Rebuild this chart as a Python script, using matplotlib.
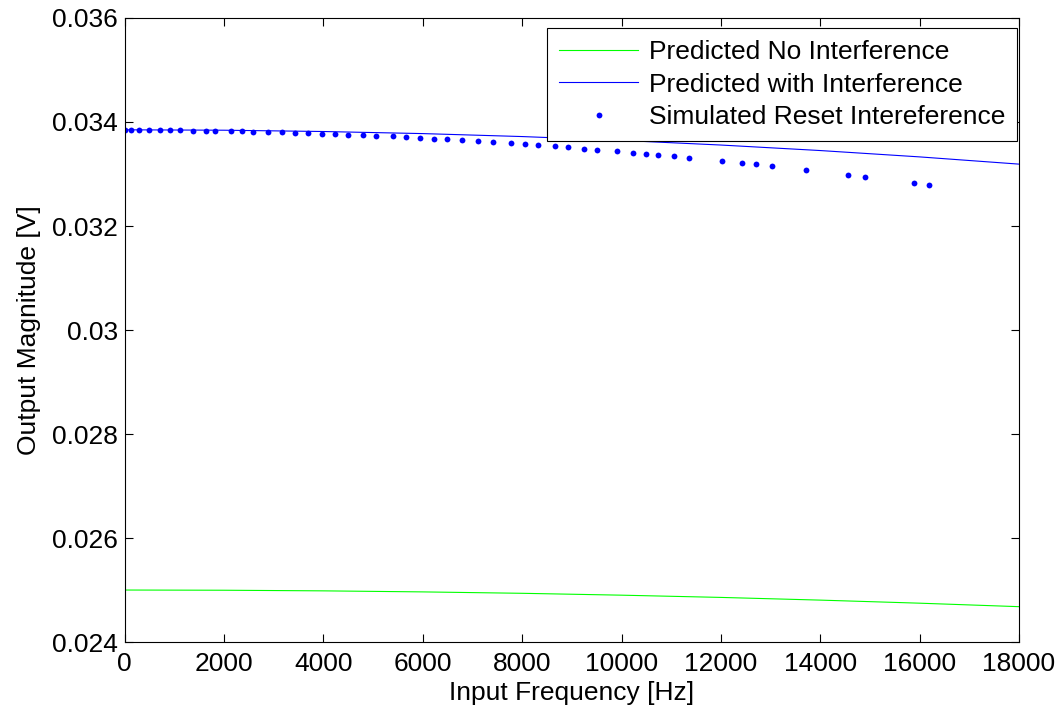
import matplotlib.pyplot as plt
from matplotlib.ticker import FuncFormatter

plt.rcParams['font.family'] = ['Liberation Sans', 'DejaVu Sans']

# Predicted curves
freq_pred = [0, 2000, 4000, 6000, 8000, 10000, 12000, 14000, 16000, 18000]
mag_no_interf = [0.02500, 0.024996, 0.024984, 0.024964, 0.024937,
                 0.024901, 0.024858, 0.024806, 0.024747, 0.02468]
mag_with_interf = [0.03385, 0.033842, 0.033817, 0.033777, 0.03372,
                   0.033646, 0.033557, 0.033451, 0.033329, 0.03319]

# Simulated points
freq_sim = [0, 120, 288, 496, 704, 911, 1106, 1381, 1636, 1824, 2132, 2367,
            2581, 2890, 3165, 3427, 3695, 3977, 4238, 4493, 4788, 5056, 5392,
            5660, 5941, 6223, 6485, 6793, 7109, 7417, 7773, 8048, 8316, 8658,
            8926, 9241, 9502, 9899, 10221, 10489, 10724, 11052, 11348, 12024,
            12421, 12716, 13030, 13714, 14567, 14901, 15887, 16196]
mag_sim = [0.033846, 0.033846, 0.033840, 0.033840, 0.033840, 0.033840,
           0.033840, 0.033833, 0.033833, 0.033833, 0.033827, 0.033821,
           0.033814, 0.033808, 0.033801, 0.033788, 0.033782, 0.033769,
           0.033763, 0.033756, 0.033744, 0.033737, 0.033724, 0.033718,
           0.033692, 0.033679, 0.033667, 0.033654, 0.033628, 0.033615,
           0.033596, 0.033577, 0.033564, 0.033538, 0.033519, 0.033481,
           0.033468, 0.033436, 0.033404, 0.033385, 0.033372, 0.033340,
           0.033314, 0.033250, 0.033212, 0.033186, 0.033147, 0.033077,
           0.032981, 0.032942, 0.032827, 0.032788]

fs = 19

fig = plt.figure(figsize=(10.59, 7.14), dpi=100)
ax = fig.add_axes([0.1178, 0.1008, 0.8444, 0.874])

ax.plot(freq_pred, mag_no_interf, color='#00ff00', linewidth=0.8, label='Predicted No Interference')
ax.plot(freq_pred, mag_with_interf, color='#0000ff', linewidth=0.8, label='Predicted with Interference')
ax.plot(freq_sim, mag_sim, linestyle='none', marker='o', markersize=4.2, color='#0000ff',
        markeredgewidth=0, label='Simulated Reset Intereference')

ax.set_xlim(0, 18000)
ax.set_ylim(0.024, 0.036)
ax.set_xticks(range(0, 18001, 2000))
ax.set_yticks([0.024, 0.026, 0.028, 0.030, 0.032, 0.034, 0.036])
ax.yaxis.set_major_formatter(FuncFormatter(lambda v, p: '%g' % round(v, 4)))
ax.tick_params(direction='in', top=True, right=True, labelsize=fs, length=6, width=0.8)
ax.tick_params(axis='x', pad=7)
ax.tick_params(axis='y', pad=5)
for s in ax.spines.values():
    s.set_linewidth(0.8)

ax.set_xlabel('Input Frequency [Hz]', fontsize=fs, labelpad=4)
ax.set_ylabel('Output Magnitude [V]', fontsize=fs, labelpad=8)

leg = ax.legend(loc='upper right', bbox_to_anchor=(0.9978, 0.984), fontsize=fs,
                fancybox=False, edgecolor='black', framealpha=1, borderaxespad=0,
                handlelength=3.0, handletextpad=0.4, labelspacing=0.33,
                borderpad=0.45)
leg.get_frame().set_linewidth(0.8)

fig.savefig('out.png', dpi=100)
